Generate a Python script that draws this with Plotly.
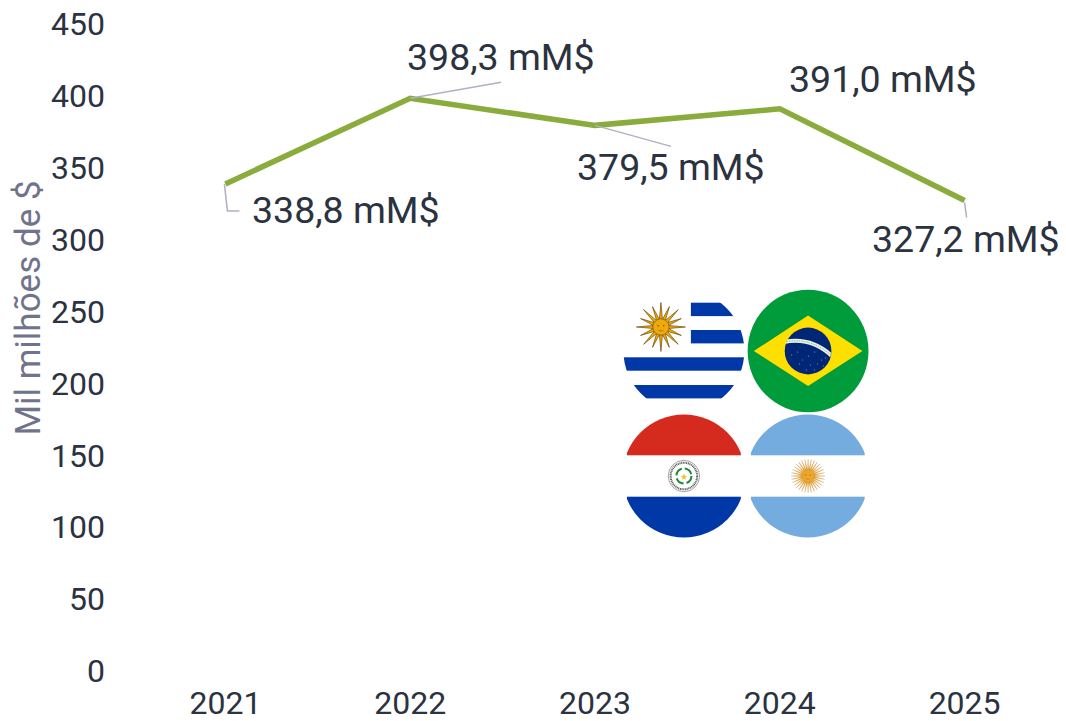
import base64, math
import plotly.graph_objects as go

years = [2021, 2022, 2023, 2024, 2025]
values = [338.8, 398.3, 379.5, 391.0, 327.2]
labels = ["338,8 mM$", "398,3 mM$", "379,5 mM$", "391,0 mM$", "327,2 mM$"]
y_ticks = [0, 50, 100, 150, 200, 250, 300, 350, 400, 450]
label_shift_x = [121, 91, 76, 103, 1]
label_shift_y = [-26, 41, -42, 30, -38]
leaders = [
    "M -1 0 L 2 -27 L 14 -27",
    "M 0 0 L 91 16",
    "M 0 0 L 76 -21",
    None,
    "M 0 -2 L 2 -17",
]

W, H = 1066, 721
L, R, T, B = 132.5, 8.5, 24, 50
INK = "#2b3240"


def sun(cx, cy, r_in, r_out, n, ray, edge, wavy=False, spread=0.55, edge_w=0.3):
    parts = []
    for i in range(n):
        a = 2 * math.pi * i / n
        da = math.pi / n * spread
        rr = r_out if (not wavy or i % 2 == 0) else r_out * 0.9
        parts.append(
            f'<path d="M{cx + r_in * math.cos(a - da):.2f} {cy + r_in * math.sin(a - da):.2f} '
            f'L{cx + rr * math.cos(a):.2f} {cy + rr * math.sin(a):.2f} '
            f'L{cx + r_in * math.cos(a + da):.2f} {cy + r_in * math.sin(a + da):.2f} Z" '
            f'fill="{ray}" stroke="{edge}" stroke-width="{edge_w}"/>'
        )
    parts.append(f'<circle cx="{cx}" cy="{cy}" r="{r_in}" fill="{ray}" stroke="{edge}" stroke-width="0.4"/>')
    parts.append(f'<circle cx="{cx - r_in * .35:.2f}" cy="{cy - r_in * .15:.2f}" r="0.7" fill="{edge}"/>')
    parts.append(f'<circle cx="{cx + r_in * .35:.2f}" cy="{cy - r_in * .15:.2f}" r="0.7" fill="{edge}"/>')
    parts.append(f'<path d="M{cx - r_in * .3:.2f} {cy + r_in * .4:.2f} Q{cx} {cy + r_in * .65:.2f} {cx + r_in * .3:.2f} {cy + r_in * .4:.2f}" fill="none" stroke="{edge}" stroke-width="0.5"/>')
    return "".join(parts)


# Flags are drawn in a 270x270 box whose top-left sits at pixel (610, 280).
def flags_svg():
    s = ['<svg xmlns="http://www.w3.org/2000/svg" width="1080" height="1080" viewBox="0 0 270 270">']
    s.append('<defs>'
             '<clipPath id="u"><circle cx="74" cy="71" r="60.5"/></clipPath>'
             '<clipPath id="p"><circle cx="74" cy="196" r="61.5"/></clipPath>'
             '<clipPath id="a"><circle cx="198" cy="196" r="61.5"/></clipPath>'
             '<clipPath id="b"><circle cx="198" cy="71" r="23.4"/></clipPath>'
             '</defs>')
    # Uruguay
    s.append('<g clip-path="url(#u)">')
    for top, x0 in [(22.7, 81), (50, 81), (77.3, 0), (105, 0)]:
        s.append(f'<rect x="{x0}" y="{top}" width="200" height="13.4" fill="#0038a8"/>')
    s.append('</g>')
    s.append(sun(51, 47, 8, 24.5, 16, "#eeaa0c", "#6e4a05", True, 0.95, 0.7))
    # Brazil
    s.append('<ellipse cx="198.3" cy="71" rx="60.5" ry="61.3" fill="#009b3a"/>')
    s.append('<path d="M144 71 L198.3 35.5 L252.7 71 L198.3 106 Z" fill="#fedf00"/>')
    s.append('<circle cx="198.3" cy="71" r="23.4" fill="#002776"/>')
    s.append('<g clip-path="url(#b)"><path d="M174 62 Q204 56 226 80" fill="none" stroke="#e8f2e8" stroke-width="4"/>'
             '<path d="M174 62 Q204 56 226 80" fill="none" stroke="#5aa06a" stroke-width="0.7" stroke-dasharray="1.5 1"/></g>')
    for x, y in [(182, 75), (188, 72), (193, 80), (199, 76), (201, 85), (205, 72), (208, 84), (212, 80), (214, 86), (190, 84), (197, 90), (216, 78), (205, 90)]:
        s.append(f'<circle cx="{x}" cy="{y}" r="0.45" fill="#fff"/>')
    # Paraguay
    s.append('<g clip-path="url(#p)">'
             '<rect x="17" y="130" width="114" height="45.3" fill="#d52b1e"/>'
             '<rect x="17" y="216.7" width="114" height="45" fill="#0038a8"/></g>')
    s.append('<circle cx="74" cy="196" r="15.7" fill="#fff" stroke="#444" stroke-width="0.5"/>'
             '<circle cx="74" cy="196" r="13.3" fill="none" stroke="#555" stroke-width="2" stroke-dasharray="1 0.7"/>'
             '<circle cx="74" cy="196" r="7.5" fill="none" stroke="#1e8a3c" stroke-width="2" stroke-dasharray="9 3"/>')
    star = " ".join(f"{74 + (3.5 if i % 2 == 0 else 1.4) * math.sin(i * math.pi / 5):.2f},{197 - (3.5 if i % 2 == 0 else 1.4) * math.cos(i * math.pi / 5):.2f}" for i in range(10))
    s.append(f'<polygon points="{star}" fill="#f2c230"/>')
    # Argentina
    s.append('<g clip-path="url(#a)">'
             '<rect x="141" y="130" width="114" height="45.3" fill="#74acdf"/>'
             '<rect x="141" y="216.7" width="114" height="45" fill="#74acdf"/></g>')
    s.append(sun(198.3, 196, 6.5, 17, 32, "#eda52c", "#b5741a", False, 0.85, 0.2))
    s.append('</svg>')
    return "data:image/svg+xml;base64," + base64.b64encode("".join(s).encode()).decode()


fig = go.Figure(go.Scatter(
    x=years, y=values, mode="lines",
    line=dict(color="#8aac3c", width=5.5, shape="linear"),
    hoverinfo="skip",
))

for yr, v, path in zip(years, values, leaders):
    if path:
        fig.add_shape(type="path", path=path, xsizemode="pixel", ysizemode="pixel",
                      xref="x", yref="y", xanchor=yr, yanchor=v,
                      line=dict(color="#aeb1c4", width=1.5), layer="above")

for yr, v, t, dx, dy in zip(years, values, labels, label_shift_x, label_shift_y):
    fig.add_annotation(x=yr, y=v, xref="x", yref="y", text=t, showarrow=False, xshift=dx, yshift=dy,
                       font=dict(family="Roboto", size=37.5, color=INK))

pw, ph = W - L - R, H - T - B
fig.add_annotation(text="Mil milhões de $", textangle=-90, showarrow=False,
                   xref="paper", yref="paper", x=(27 - L) / pw, y=1 - (308 - T) / ph,
                   xanchor="center", yanchor="middle",
                   font=dict(family="Roboto", size=35, color="#6f748c"))

fig.add_layout_image(source=flags_svg(), xref="paper", yref="paper",
                     x=(610 - L) / pw, y=1 - (280 - T) / ph,
                     sizex=270 / pw, sizey=270 / ph, sizing="stretch",
                     xanchor="left", yanchor="top", layer="above")

fig.update_layout(
    width=W, height=H, autosize=False,
    margin=dict(l=L, r=R, t=T, b=B, pad=0),
    paper_bgcolor="white", plot_bgcolor="white",
    showlegend=False,
    font=dict(family="Roboto", color=INK),
    xaxis=dict(range=[2020.5, 2025.5], tickvals=years, ticktext=[str(y) for y in years],
               showgrid=False, zeroline=False, showline=False, automargin=False,
               ticks="", tickfont=dict(family="Roboto", size=32, color=INK), ticklabelstandoff=10),
    yaxis=dict(range=[0, 450], tickvals=y_ticks, showgrid=False, zeroline=False, showline=False,
               automargin=False,
               ticks="", tickfont=dict(family="Roboto", size=32, color=INK), ticklabelstandoff=27),
)

fig.write_html("out.html", config={"displayModeBar": False},
               post_script="document.body.style.margin='0';")
